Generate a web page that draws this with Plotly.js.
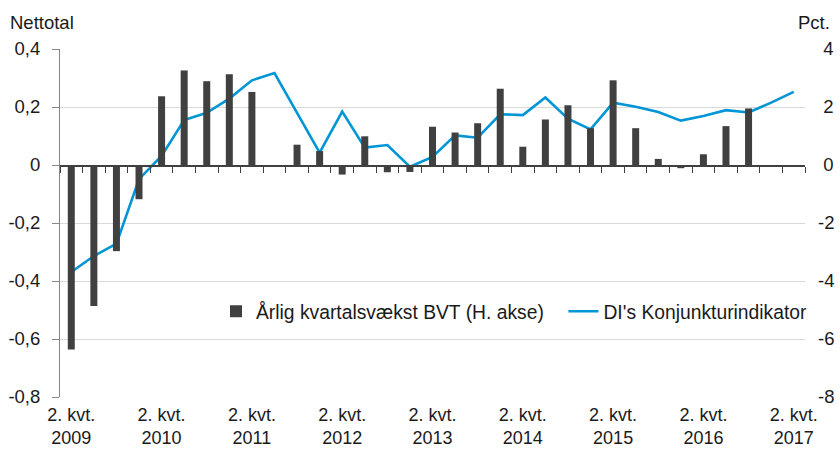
<!DOCTYPE html>
<html>
<head>
<meta charset="utf-8">
<script src="https://cdn.plot.ly/plotly-3.0.1.min.js"></script>
<style>html,body{margin:0;padding:0;background:#fff;}#chart{width:840px;height:449px;}</style>
</head>
<body>
<div id="chart"></div>
<script>
const quarters = [
  '2. kvt. 2009','3. kvt. 2009','4. kvt. 2009',
  '1. kvt. 2010','2. kvt. 2010','3. kvt. 2010','4. kvt. 2010',
  '1. kvt. 2011','2. kvt. 2011','3. kvt. 2011','4. kvt. 2011',
  '1. kvt. 2012','2. kvt. 2012','3. kvt. 2012','4. kvt. 2012',
  '1. kvt. 2013','2. kvt. 2013','3. kvt. 2013','4. kvt. 2013',
  '1. kvt. 2014','2. kvt. 2014','3. kvt. 2014','4. kvt. 2014',
  '1. kvt. 2015','2. kvt. 2015','3. kvt. 2015','4. kvt. 2015',
  '1. kvt. 2016','2. kvt. 2016','3. kvt. 2016','4. kvt. 2016',
  '1. kvt. 2017','2. kvt. 2017'
];
// Årlig kvartalsvækst BVT, pct. (højre akse)
const bvtGrowth = [-6.36,-4.86,-2.97,-1.18,2.37,3.26,2.89,3.13,2.52,-0.05,0.70,0.48,-0.33,0.99,-0.25,-0.24,1.32,1.12,1.44,2.63,0.63,1.57,2.06,1.27,2.92,1.27,0.21,-0.11,0.37,1.34,1.95,null,null];
// DI's Konjunkturindikator, nettotal (venstre akse)
const diIndicator = [-0.369,-0.314,-0.271,-0.049,0.031,0.155,0.18,0.229,0.292,0.317,0.18,0.043,0.184,0.06,0.069,-0.006,0.028,0.102,0.094,0.175,0.172,0.233,0.16,0.123,0.215,0.201,0.183,0.153,0.169,0.189,0.181,0.215,0.252];

const xTickVals = ['2. kvt. 2009','2. kvt. 2010','2. kvt. 2011','2. kvt. 2012','2. kvt. 2013','2. kvt. 2014','2. kvt. 2015','2. kvt. 2016','2. kvt. 2017'];
const xTickText = ['2. kvt.<br>2009','2. kvt.<br>2010','2. kvt.<br>2011','2. kvt.<br>2012','2. kvt.<br>2013','2. kvt.<br>2014','2. kvt.<br>2015','2. kvt.<br>2016','2. kvt.<br>2017'];
const leftTickVals = [-0.8,-0.6,-0.4,-0.2,0,0.2,0.4];
const leftTickText = ['-0,8','-0,6','-0,4','-0,2','0','0,2','0,4'];
const rightTickVals = [-8,-6,-4,-2,0,2,4];
const rightTickText = ['-8','-6','-4','-2','\u20080','\u20082','\u20084'];

const FONT = 'Liberation Sans, Arial, sans-serif';
const TICKSIZE = 18.5;

// quarter index positions for the zero-line axis (boundary ticks between quarters)
const quarterIndex = quarters.map((q, i) => i);

const traces = [
  {
    type: 'bar', name: 'Årlig kvartalsvækst BVT (H. akse)\u00a0\u00a0\u2009',
    x: quarters, y: bvtGrowth, xaxis: 'x', yaxis: 'y2',
    width: 0.31,
    marker: {color: '#404040', line: {width: 0}},
    hoverinfo: 'skip'
  },
  {
    type: 'scatter', mode: 'lines', name: "DI's Konjunkturindikator",
    x: quarters, y: diIndicator, xaxis: 'x', yaxis: 'y',
    line: {color: '#0096d6', width: 2.6},
    hoverinfo: 'skip'
  },
  {
    // invisible helper trace that only activates the zero-line tick axis
    type: 'scatter', mode: 'none', x: quarterIndex, y: quarters.map(() => null),
    xaxis: 'x2', yaxis: 'y', showlegend: false, hoverinfo: 'skip'
  }
];

const layout = {
  width: 840, height: 449,
  margin: {l: 60, r: 35, t: 49, b: 52},
  paper_bgcolor: '#ffffff', plot_bgcolor: '#ffffff',
  font: {family: FONT, size: TICKSIZE, color: '#1a1a1a'},
  showlegend: true,
  barmode: 'overlay',
  xaxis: {
    type: 'category', categoryorder: 'array', categoryarray: quarters,
    range: [-0.5, 32.5], anchor: 'y', side: 'bottom',
    tickmode: 'array', tickvals: xTickVals, ticktext: xTickText,
    ticks: '', showline: false, showgrid: false, zeroline: false,
    ticklabelstandoff: 5,
    tickfont: {family: FONT, size: 18, color: '#1a1a1a'}, fixedrange: true
  },
  xaxis2: {
    type: 'linear', range: [-0.5, 32.5], overlaying: 'x', anchor: 'free', position: 2/3, side: 'bottom',
    tickmode: 'linear', tick0: -0.5, dtick: 1,
    showline: true, linecolor: '#404040', linewidth: 1.5,
    ticks: 'outside', ticklen: 6, tickwidth: 1, tickcolor: '#404040',
    showticklabels: false, showgrid: false, zeroline: false, fixedrange: true
  },
  yaxis: {
    range: [-0.8, 0.4], anchor: 'x', side: 'left',
    tickmode: 'array', tickvals: leftTickVals, ticktext: leftTickText,
    showgrid: true, gridcolor: '#d9d9d9', gridwidth: 1,
    showline: true, linecolor: '#868686', linewidth: 1,
    ticks: 'outside', ticklen: 7, tickcolor: '#868686',
    ticklabelstandoff: 8,
    zeroline: false,
    tickfont: {family: FONT, size: TICKSIZE, color: '#1a1a1a'}, fixedrange: true
  },
  yaxis2: {
    range: [-8, 4], overlaying: 'y', anchor: 'x', side: 'right',
    tickmode: 'array', tickvals: rightTickVals, ticktext: rightTickText,
    showgrid: false, showline: false, ticks: '', zeroline: false,
    ticklabelstandoff: 12,
    tickfont: {family: FONT, size: TICKSIZE, color: '#1a1a1a'}, fixedrange: true
  },
  legend: {
    orientation: 'h', x: 0.2094, xanchor: 'left', y: 0.245, yanchor: 'middle',
    bgcolor: 'rgba(0,0,0,0)', borderwidth: 0,
    font: {family: FONT, size: 19.3, color: '#1a1a1a'},
    traceorder: 'normal'
  },
  annotations: [
    {xref: 'paper', yref: 'paper', x: 0, y: 1, xanchor: 'left', yanchor: 'middle', xshift: -52, yshift: 27,
     text: 'Nettotal', showarrow: false, font: {family: FONT, size: TICKSIZE, color: '#1a1a1a'}},
    {xref: 'paper', yref: 'paper', x: 1, y: 1, xanchor: 'right', yanchor: 'middle', xshift: 27, yshift: 27,
     text: 'Pct.', showarrow: false, font: {family: FONT, size: TICKSIZE, color: '#1a1a1a'}}
  ]
};

Plotly.newPlot('chart', traces, layout, {displayModeBar: false, staticPlot: true});
</script>
</body>
</html>
